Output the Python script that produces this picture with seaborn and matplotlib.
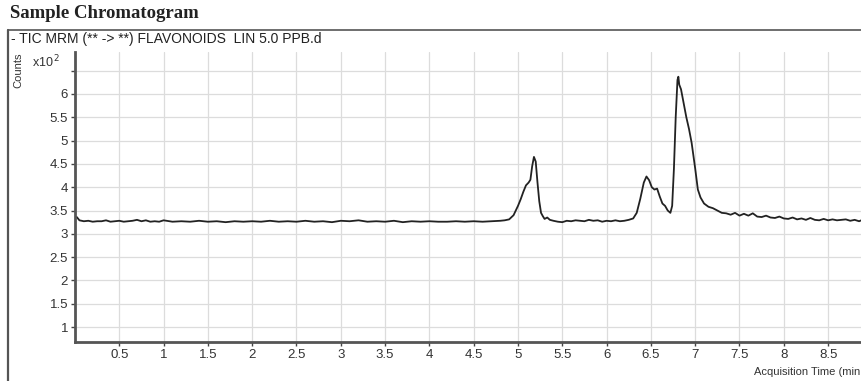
import numpy as np
import pandas as pd
import matplotlib
matplotlib.use("Agg")
import matplotlib.pyplot as plt
from matplotlib.lines import Line2D
import seaborn as sns

# Acquisition time (min) and counts (x10^2)
time_min = [
    0.02, 0.05, 0.10, 0.15, 0.20, 0.25, 0.30, 0.35, 0.40, 0.45, 0.50,
    0.55, 0.60, 0.65, 0.70, 0.75, 0.80, 0.85, 0.90, 0.95,
    1.00, 1.10, 1.20, 1.30, 1.40, 1.50, 1.60, 1.70, 1.80, 1.90,
    2.00, 2.10, 2.20, 2.30, 2.40, 2.50, 2.60, 2.70, 2.80, 2.90,
    3.00, 3.10, 3.20, 3.30, 3.40, 3.50, 3.60, 3.70, 3.80, 3.90,
    4.00, 4.10, 4.20, 4.30, 4.40, 4.50, 4.60, 4.70, 4.80, 4.85,
    4.90, 4.95, 5.00, 5.03, 5.06, 5.09, 5.12, 5.14, 5.16, 5.18,
    5.20, 5.22, 5.24, 5.26, 5.28, 5.30, 5.33, 5.36, 5.40, 5.45,
    5.50, 5.55, 5.60, 5.65, 5.70, 5.75, 5.80, 5.85, 5.90, 5.95,
    6.00, 6.05, 6.10, 6.15, 6.20, 6.25, 6.30, 6.34, 6.38, 6.42,
    6.45, 6.48, 6.51, 6.54, 6.57, 6.60, 6.63, 6.66, 6.69, 6.72,
    6.74, 6.76, 6.78, 6.80, 6.81, 6.82, 6.84, 6.87, 6.90, 6.93,
    6.96, 7.00, 7.03, 7.06, 7.10, 7.15, 7.20, 7.25, 7.30, 7.35,
    7.40, 7.45, 7.50, 7.55, 7.60, 7.65, 7.70, 7.75, 7.80, 7.85,
    7.90, 7.95, 8.00, 8.05, 8.10, 8.15, 8.20, 8.25, 8.30, 8.35,
    8.40, 8.45, 8.50, 8.55, 8.60, 8.65, 8.70, 8.75, 8.80, 8.85,
    8.90, 8.95,
]
counts = [
    3.36, 3.29, 3.27, 3.28, 3.26, 3.27, 3.27, 3.29, 3.26, 3.27, 3.28,
    3.26, 3.27, 3.28, 3.30, 3.27, 3.29, 3.26, 3.27, 3.26,
    3.29, 3.26, 3.27, 3.26, 3.28, 3.26, 3.27, 3.25, 3.27, 3.26,
    3.27, 3.26, 3.28, 3.26, 3.27, 3.26, 3.28, 3.26, 3.27, 3.25,
    3.28, 3.27, 3.29, 3.26, 3.27, 3.26, 3.28, 3.25, 3.27, 3.26,
    3.27, 3.26, 3.26, 3.27, 3.26, 3.27, 3.26, 3.27, 3.28, 3.29,
    3.31, 3.40, 3.60, 3.74, 3.90, 4.04, 4.10, 4.16, 4.45, 4.65,
    4.55, 4.10, 3.70, 3.45, 3.38, 3.32, 3.35, 3.30, 3.28, 3.26,
    3.25, 3.28, 3.27, 3.29, 3.28, 3.27, 3.30, 3.28, 3.29, 3.26,
    3.28, 3.27, 3.29, 3.27, 3.28, 3.30, 3.33, 3.45, 3.75, 4.10,
    4.23, 4.15, 4.00, 3.95, 3.97, 3.80, 3.65, 3.60, 3.50, 3.45,
    3.60, 4.40, 5.50, 6.30, 6.37, 6.20, 6.10, 5.80, 5.50, 5.25,
    4.95, 4.40, 3.95, 3.78, 3.65, 3.58, 3.55, 3.50, 3.45, 3.44,
    3.41, 3.45, 3.39, 3.43, 3.39, 3.44, 3.37, 3.36, 3.39, 3.35,
    3.34, 3.37, 3.33, 3.32, 3.35, 3.31, 3.33, 3.30, 3.34, 3.30,
    3.29, 3.32, 3.29, 3.31, 3.29, 3.30, 3.31, 3.28, 3.30, 3.27,
    3.31, 3.28,
]
x_ticks = [0.5, 1, 1.5, 2, 2.5, 3, 3.5, 4, 4.5, 5, 5.5, 6, 6.5, 7, 7.5, 8, 8.5]
x_tick_labels = ["0.5", "1", "1.5", "2", "2.5", "3", "3.5", "4", "4.5", "5",
                 "5.5", "6", "6.5", "7", "7.5", "8", "8.5"]
y_ticks = [1, 1.5, 2, 2.5, 3, 3.5, 4, 4.5, 5, 5.5, 6, 6.5]
y_tick_labels = ["1", "1.5", "2", "2.5", "3", "3.5", "4", "4.5", "5", "5.5", "6", ""]

df = pd.DataFrame({"time": time_min, "counts": counts})

sns.set_style("white")
plt.rcParams["font.family"] = ["Liberation Sans", "DejaVu Sans"]

fig = plt.figure(figsize=(8.62, 3.81), dpi=100)
W, H = 862, 381
ax = fig.add_axes([75 / W, 1 - 342 / H, (W - 75) / W + 0.01, (342 - 52) / H])

sns.lineplot(data=df, x="time", y="counts", ax=ax, color="#222222",
             linewidth=1.3, errorbar=None)

ax.set_xlim(0, 8.98)
ax.set_ylim(0.68, 6.9)
ax.set_xticks(x_ticks)
ax.set_xticklabels(x_tick_labels)
ax.set_yticks(y_ticks)
ax.set_yticklabels(y_tick_labels)
ax.set_xlabel("")
ax.set_ylabel("")
ax.grid(True, color="#dcdcdc", linewidth=0.9)
ax.set_axisbelow(True)
for s in ["top", "right"]:
    ax.spines[s].set_visible(False)
for s in ["left", "bottom"]:
    ax.spines[s].set_color("#555555")
    ax.spines[s].set_linewidth(2.0)
ax.tick_params(axis="both", which="both", direction="out", length=3, width=1,
               color="#444444", labelsize=9.5, labelcolor="#333333", pad=2,
               left=True, bottom=True)

# Outer frame lines
fig.add_artist(Line2D([8 / W, 8 / W], [0, 1 - 30 / H], color="#555555", lw=1.6,
                      transform=fig.transFigure))
fig.add_artist(Line2D([8 / W, 1], [1 - 30 / H, 1 - 30 / H], color="#555555", lw=1.2,
                      transform=fig.transFigure))

fig.text(10 / W, 1 - 14 / H, "Sample Chromatogram", fontsize=13.5, fontweight="bold",
         family=["Liberation Serif", "DejaVu Serif"], color="#222222", va="center", ha="left")
fig.text(11 / W, 1 - 39 / H, "- TIC MRM (** -> **) FLAVONOIDS  LIN 5.0 PPB.d",
         fontsize=10, color="#222222", va="center", ha="left")
fig.text(18 / W, 1 - 70 / H, "Counts", fontsize=8, rotation=90, color="#333333",
         va="center", ha="center")
fig.text(32 / W, 1 - 62 / H, r"x10$^{\,2}$", fontsize=9, color="#333333",
         va="center", ha="left")
fig.text(754 / W, 1 - 372 / H, "Acquisition Time (min", fontsize=8, color="#333333",
         va="center", ha="left")

fig.savefig("out.png", dpi=100)
